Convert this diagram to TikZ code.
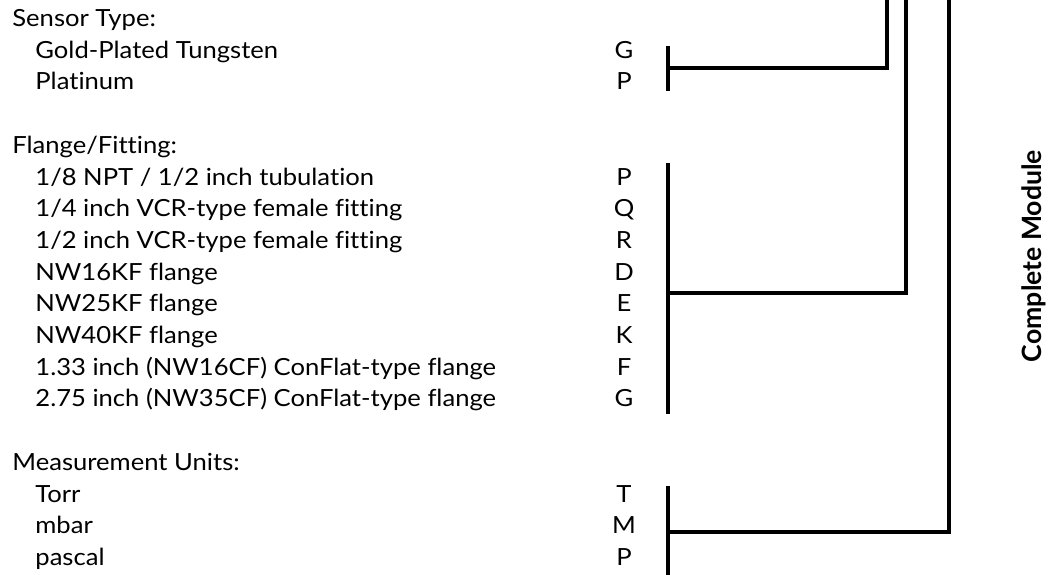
\documentclass[tikz,border=0pt]{standalone}
\usepackage{fontspec}
\setmainfont{Lato}[FakeStretch=1.085,Ligatures=NoCommon]
\newfontfamily\titlefont{Lato}[Ligatures=NoCommon]
\usetikzlibrary{calc}

\begin{document}
\begin{tikzpicture}[x=0.5pt,y=-0.5pt,
	every node/.style={font=\fontsize{11.8}{14}\selectfont,inner sep=0pt},
	head/.style={anchor=base west},
	item/.style={anchor=base west},
	code/.style={anchor=base},
	bar/.style={line width=1.6pt},
	title/.style={font=\fontsize{13.3}{15}\titlefont\bfseries,rotate=90}]
	\useasboundingbox (0,0) rectangle (1053,574);

	% sensor type
	\node[head] (hs) at (12,26.5) {Sensor Type:};
	\node[item] (iG) at (35,58.2) {Gold-Plated Tungsten};
	\node[item] (iP) at (35,89.9) {Platinum};
	\node[code] (sG) at (624,58.2) {G};
	\node[code] (sP) at (624,89.9) {P};

	% flange / fitting
	\node[head] (hf) at (12,153.3) {Flange/Fitting:};
	\node[item] (fP1) at (35,185) {1/8 NPT / 1/2 inch tubulation};
	\node[item] (fQ1) at (35,216.7) {1/4 inch VCR-type female fitting};
	\node[item] (fR1) at (35,248.4) {1/2 inch VCR-type female fitting};
	\node[item] (fD1) at (35,280.1) {NW16KF flange};
	\node[item] (fE1) at (35,311.8) {NW25KF flange};
	\node[item] (fK1) at (35,343.5) {NW40KF flange};
	\node[item] (fF1) at (35,375.2) {1.33 inch (NW16CF) ConFlat-type flange};
	\node[item] (fG1) at (35,406.9) {2.75 inch (NW35CF) ConFlat-type flange};
	\node[code] (fP) at (624,185) {P};
	\node[code] (fQ) at (624,216.7) {Q};
	\node[code] (fR) at (624,248.4) {R};
	\node[code] (fD) at (624,280.1) {D};
	\node[code] (fE) at (624,311.8) {E};
	\node[code] (fK) at (624,343.5) {K};
	\node[code] (fF) at (624,375.2) {F};
	\node[code] (fG) at (624,406.9) {G};

	% measurement units
	\node[head] (hu) at (12,470.3) {Measurement Units:};
	\node[item] (iT) at (35,502) {Torr};
	\node[item] (iM) at (35,533.7) {mbar};
	\node[item] (iPa) at (35,565.4) {pascal};
	\node[code] (uT) at (624,502) {T};
	\node[code] (uM) at (624,533.7) {M};
	\node[code] (uP) at (624,565.4) {P};

	\node[title] (cm) at (1034,256) {Complete Module};

	\coordinate (sbar) at (668,68);
	\coordinate (fbar) at (668,293);
	\coordinate (ubar) at (668,532);
	\coordinate (stop) at (887,0);
	\coordinate (ftop) at (906,0);
	\coordinate (utop) at (949,0);

	\draw[bar] ($(sbar |- sG.north)+(0,5)$) -- ($(sbar |- sP.south)+(0,1)$);
	\draw[bar] ($(fbar |- fP.north)+(0,-5)$) -- ($(fbar |- fG.south)+(0,6)$);
	\draw[bar] ($(ubar |- uT.north)+(0,1)$) -- ($(ubar |- uP.south)+(0,9)$);
	\draw[bar] (sbar) -| (stop);
	\draw[bar] (fbar) -| (ftop);
	\draw[bar] (ubar) -| (utop);
\end{tikzpicture}
\end{document}
